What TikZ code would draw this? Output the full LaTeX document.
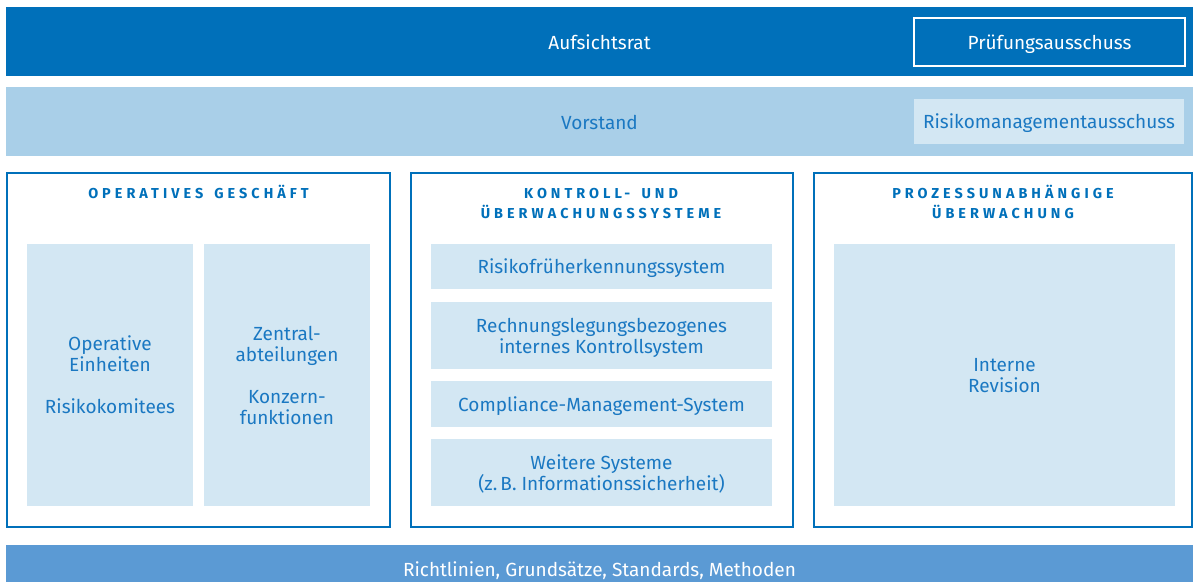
\documentclass[tikz,border=0pt]{standalone}
\usepackage{fontspec}
\setmainfont{Fira Sans}
\newfontfamily\spacedfont[LetterSpace=28, WordSpace=1.5]{Fira Sans}
\newcommand\capstrut{\rule{0pt}{7.5pt}}

\definecolor{darkblue}{HTML}{0070BA}
\definecolor{midblue}{HTML}{5B9AD4}
\definecolor{paleblue}{HTML}{A9CFE8}
\definecolor{lightblue}{HTML}{D3E7F3}
\definecolor{textblue}{HTML}{1A78C2}

\begin{document}
\begin{tikzpicture}[x=0.5pt, y=-0.5pt,
    bar/.style={fill=#1, inner sep=0pt, minimum width=593.5pt, text height=8pt, text depth=0pt,
        font=\fontsize{9.5}{10.5}\selectfont},
    column/.style={draw=darkblue, line width=1pt, fill=white, inner sep=0pt, minimum height=177pt},
    cell/.style={fill=lightblue, text=textblue, inner sep=0pt, align=center, text depth=0pt,
        font=\fontsize{9.5}{10.5}\selectfont},
    title/.style={text=darkblue, inner sep=0pt, align=center, anchor=north,
        font=\spacedfont\bfseries\fontsize{7.2}{10}\selectfont}]
\useasboundingbox (0,0) rectangle (1193,582);

% Aufsichtsrat und Vorstand
\node (aufsichtsrat) at (599.5,41.5) [bar=darkblue, minimum height=34.5pt, text=white] {Aufsichtsrat};
\node (pruefung) at (1049.5,42) [draw=white, line width=1pt, fill=darkblue, text=white, inner sep=0pt,
    minimum width=135.5pt, minimum height=24pt, text height=8pt, text depth=0pt,
    font=\fontsize{9.5}{10.5}\selectfont] {Prüfungsausschuss};
\node (vorstand) at (599.5,121.5) [bar=paleblue, minimum height=34.5pt, text=textblue] {Vorstand};
\node (risikoaus) at (1049,121.5) [cell, minimum width=135pt, minimum height=22.5pt] {Risikomanagementausschuss};

% drei Saeulen
\node (operativ) at (198.5,350) [column, minimum width=191.5pt] {};
\node (kontroll) at (602,350) [column, minimum width=191pt] {};
\node (prozess) at (1003,350) [column, minimum width=189pt] {};

\node (operativtitle) at (198.5,183.5) [title] {\capstrut OPERATIVES GESCHÄFT};
\node (kontrolltitle) at (601,183.5) [title] {\capstrut KONTROLL- UND\\ÜBERWACHUNGSSYSTEME};
\node (prozesstitle) at (1003,183.5) [title] {\capstrut PROZESSUNABHÄNGIGE\\ÜBERWACHUNG};

\node (einheiten) at (110,375) [cell, minimum width=83pt, minimum height=131pt] {Operative\\Einheiten\\[10.5pt]Risikokomitees};
\node (zentral) at (287,375) [cell, minimum width=83pt, minimum height=131pt] {Zentral-\\abteilungen\\[10.5pt]Konzern-\\funktionen};

\node (rfs) at (601.5,266.5) [cell, minimum width=170.5pt, minimum height=22.5pt] {Risikofrüherkennungssystem};
\node (iks) at (601.5,335.5) [cell, minimum width=170.5pt, minimum height=33.5pt] {Rechnungslegungsbezogenes\\internes Kontrollsystem};
\node (cms) at (601.5,404) [cell, minimum width=170.5pt, minimum height=23pt] {Compliance-Management-System};
\node (weitere) at (601.5,472.5) [cell, minimum width=170.5pt, minimum height=33.5pt] {Weitere Systeme\\(z.\,B. Informationssicherheit)};

\node (revision) at (1004.5,375) [cell, minimum width=170.5pt, minimum height=131pt] {Interne\\Revision};

% Richtlinien
\node (richtlinien) at (599.5,568) [bar=midblue, minimum height=23pt, text=white] {Richtlinien, Grundsätze, Standards, Methoden};
\end{tikzpicture}
\end{document}
